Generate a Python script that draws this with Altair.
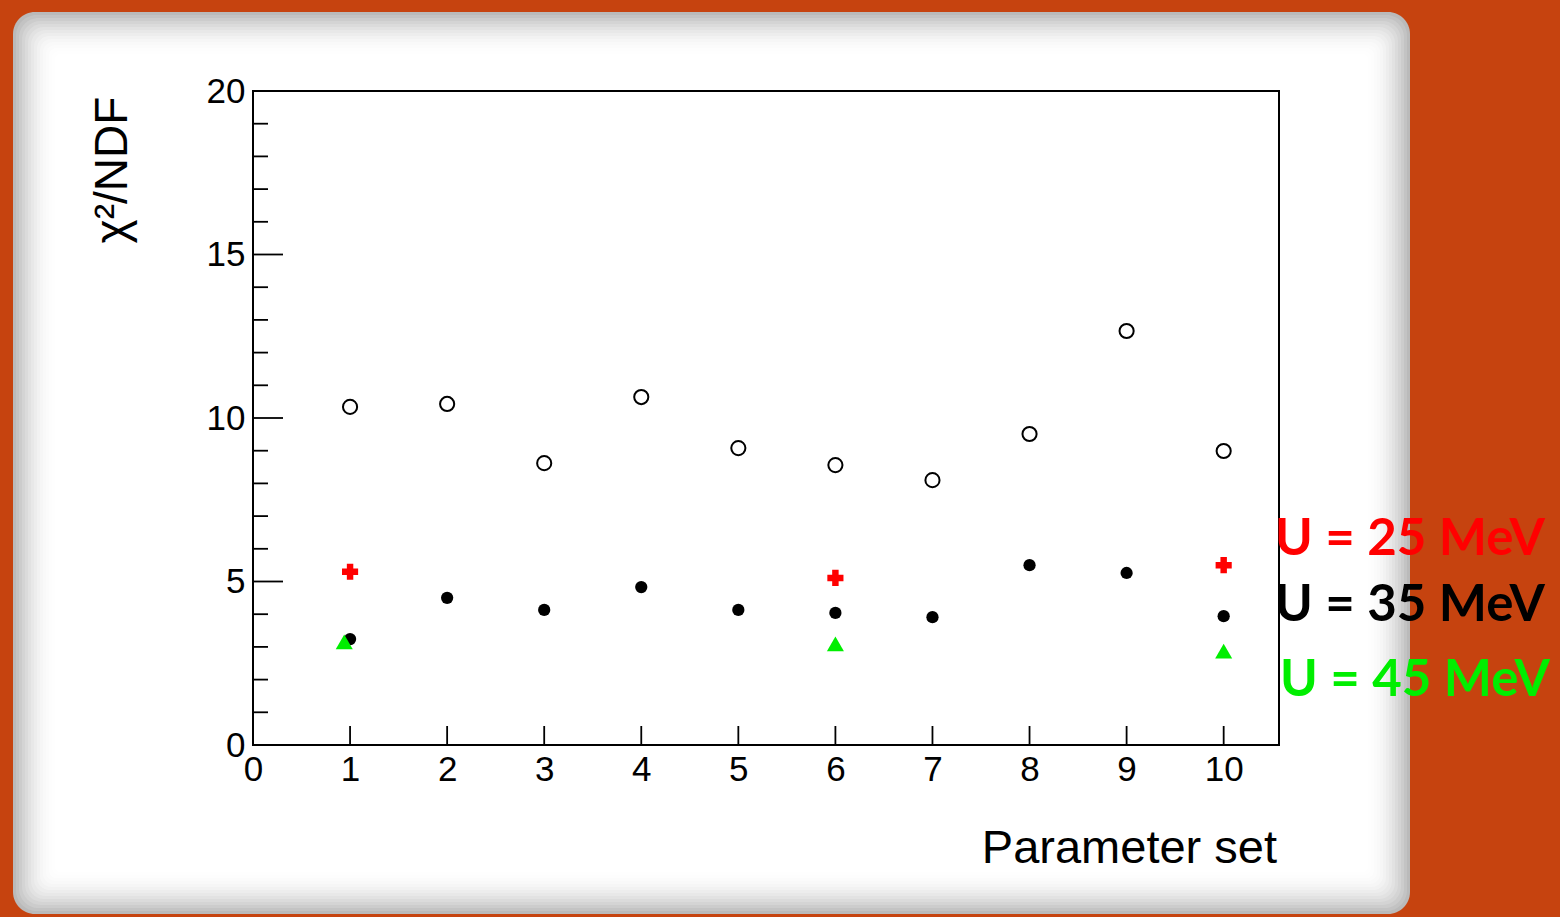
import altair as alt
import pandas as pd

# ---------------- data ----------------
param_sets = [1, 2, 3, 4, 5, 6, 7, 8, 9, 10]
chi_open = [10.34, 10.43, 8.62, 10.64, 9.08, 8.56, 8.10, 9.51, 12.66, 8.99]
chi_35 = [3.24, 4.50, 4.13, 4.83, 4.13, 4.04, 3.91, 5.50, 5.26, 3.94]
sets_25 = [1, 6, 10]
chi_25 = [5.30, 5.11, 5.50]
sets_45 = [0.94, 6, 10]
chi_45 = [3.15, 3.09, 2.87]

x_tick_labels = [0, 1, 2, 3, 4, 5, 6, 7, 8, 9, 10]
y_tick_labels = [0, 5, 10, 15, 20]
y_major_ticks = [5, 10, 15]
y_minor_ticks = [v for v in range(1, 20) if v % 5 != 0]
x_ticks = [1, 2, 3, 4, 5, 6, 7, 8, 9, 10]

legend_labels = ["U = 25 MeV", "U = 35 MeV", "U = 45 MeV"]
legend_colors = ["#ff0000", "#000000", "#00ee00"]

# ---------------- layout ----------------
W, H = 1026, 654
PL, PT = 253, 91
PR = 1560 - PL - W
PB = 917 - PT - H

x_scale = alt.Scale(domain=[0, 10.57], nice=False, zero=False)
y_scale = alt.Scale(domain=[0, 20], nice=False, zero=False)

FONT = "Liberation Sans"

x_axis = alt.Axis(values=x_tick_labels, title=None, ticks=False, domain=False, grid=False,
                  labelFont=FONT, labelFontSize=35, labelColor="black", labelPadding=7,
                  labelFlush=False, labelOverlap=False, zindex=1)
y_axis = alt.Axis(values=y_tick_labels, title=None, ticks=False, domain=False, grid=False,
                  labelFont=FONT, labelFontSize=35, labelColor="black", labelPadding=8,
                  labelFlush=False, labelOverlap=False, zindex=1)

dummy = pd.DataFrame({"d": [0]})

# paper-like panel with soft grey edge
px0, px1 = 13 - PL, 1410 - PL
py0, py1 = 12 - PT, 914 - PT
bg_layers = []
steps = 15
for i in range(steps):
    inset = i * 3
    t = i / (steps - 1)
    g = int(186 + (255 - 186) * (1 - (1 - t) ** 2))
    col = f"#{g:02x}{g:02x}{g:02x}"
    bg_layers.append(
        alt.Chart(dummy).mark_rect(color=col, cornerRadius=max(3, 22 - inset * 0.4)).encode(
            x=alt.value(px0 + inset), x2=alt.value(px1 - inset),
            y=alt.value(py0 + inset), y2=alt.value(py1 - inset)
        )
    )

df_open = pd.DataFrame({"set": param_sets, "chi": chi_open})
df_35 = pd.DataFrame({"set": param_sets, "chi": chi_35})
df_25 = pd.DataFrame({"set": sets_25, "chi": chi_25})
df_45 = pd.DataFrame({"set": sets_45, "chi": chi_45})


def xy(xf="set:Q", yf="chi:Q"):
    return dict(x=alt.X(xf, scale=x_scale, axis=x_axis), y=alt.Y(yf, scale=y_scale, axis=y_axis))


open_pts = alt.Chart(df_open).mark_point(shape="circle", filled=False, color="black",
                                         strokeWidth=2, size=200, opacity=1).encode(**xy())
pts_35 = alt.Chart(df_35).mark_point(shape="circle", filled=True, color="black",
                                     size=150, opacity=1).encode(**xy())
pts_25 = alt.Chart(df_25).mark_point(shape="cross", filled=True, color="#ff0000",
                                     size=260, opacity=1).encode(**xy())
pts_45 = alt.Chart(df_45).mark_point(shape="triangle-up", filled=True, color="#00ee00",
                                     size=290, opacity=1).encode(**xy())

# inward ticks
xt = alt.Chart(pd.DataFrame({"set": x_ticks})).mark_rule(color="black", strokeWidth=1.8).encode(
    x=alt.X("set:Q", scale=x_scale, axis=x_axis), y=alt.value(H), y2=alt.value(H - 19))
ytmaj = alt.Chart(pd.DataFrame({"chi": y_major_ticks})).mark_rule(color="black", strokeWidth=1.8).encode(
    y=alt.Y("chi:Q", scale=y_scale, axis=y_axis), x=alt.value(0), x2=alt.value(30))
ytmin = alt.Chart(pd.DataFrame({"chi": y_minor_ticks})).mark_rule(color="black", strokeWidth=1.8).encode(
    y=alt.Y("chi:Q", scale=y_scale, axis=y_axis), x=alt.value(0), x2=alt.value(15))

frame = alt.Chart(dummy).mark_rect(fillOpacity=0, stroke="black", strokeWidth=2).encode(
    x=alt.value(0), x2=alt.value(W), y=alt.value(0), y2=alt.value(H))

ytitle = alt.Chart(dummy).mark_text(text="χ²/NDF", angle=270, font=FONT, fontSize=46,
                                    align="center", baseline="alphabetic", color="black").encode(
    x=alt.value(-126), y=alt.value(79))
xtitle = alt.Chart(dummy).mark_text(text="Parameter set", font=FONT, fontSize=47,
                                    align="right", baseline="alphabetic", color="black").encode(
    x=alt.value(1024), y=alt.value(772))

leg_pos = [(1022, 464), (1022, 530), (1027, 605)]
leg_layers = []
for lab, col, (lx, ly) in zip(legend_labels, legend_colors, leg_pos):
    leg_layers.append(
        alt.Chart(dummy).mark_text(text=lab, font="Lato", fontSize=51, fontWeight="bold",
                                   align="left", baseline="alphabetic", color=col).encode(
            x=alt.value(lx), y=alt.value(ly))
    )

chart = alt.layer(
    *bg_layers, frame, xt, ytmaj, ytmin, open_pts, pts_35, pts_25, pts_45,
    ytitle, xtitle, *leg_layers
).properties(
    width=W, height=H,
    padding={"left": PL, "top": PT, "right": PR, "bottom": PB},
    autosize=alt.AutoSizeParams(type="none"),
    background="#c6430f",
).configure_view(stroke=None, fill=None)

chart.save("out.html", embed_options={"renderer": "svg", "actions": False})
